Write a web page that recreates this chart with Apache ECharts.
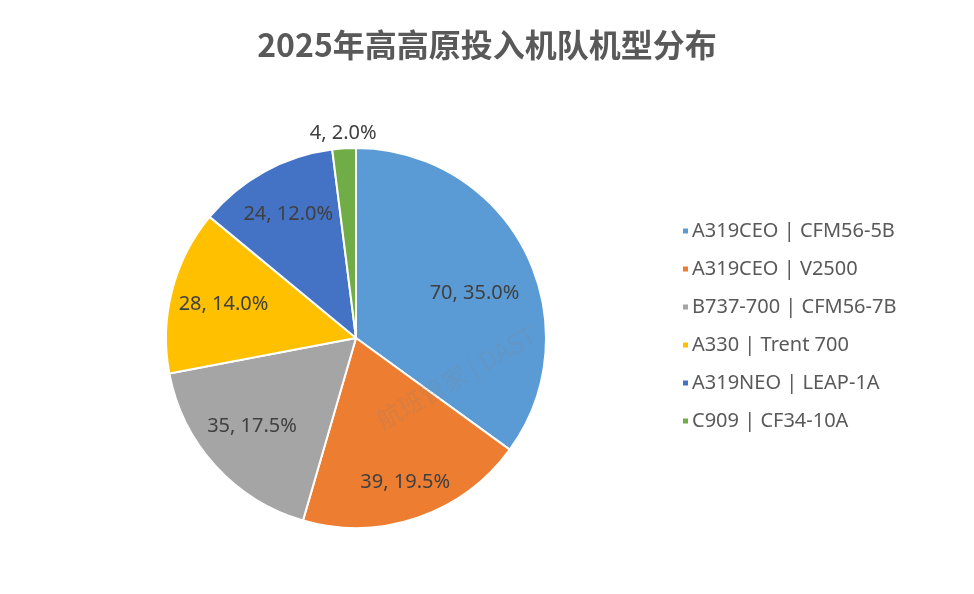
<!DOCTYPE html>
<html>
<head>
<meta charset="utf-8">
<script src="https://cdn.jsdelivr.net/npm/echarts@6/dist/echarts.min.js"></script>
<style>
html,body{margin:0;padding:0;background:#fff;}
#container1{width:974px;height:594px;}
</style>
</head>
<body>
<div id="container1"></div>
<script>
var names=['A319CEO | CFM56-5B','A319CEO | V2500','B737-700 | CFM56-7B','A330 | Trent 700','A319NEO | LEAP-1A','C909 | CF34-10A'];
var counts=[70,39,35,28,24,4];
var colors=['#5B9BD5','#ED7D31','#A5A5A5','#FFC000','#4472C4','#70AD47'];

var pieCenter=[356,338];
var pieRadius=190;
// label distance from centre (fraction of radius) and small vertical nudge per slice
var labelDist=[0.7,0.8,0.74,0.72,0.74,1.08];
var labelNudgeY=[16,0,-6,0,0,0];

var dom1=document.getElementById("container1");
var myChart1=echarts.init(dom1,null,{renderer:'canvas'});

var total=0;
for(var i=0;i<counts.length;i++){ total+=counts[i]; }

// mid angle of each slice, clockwise from 12 o'clock
function midAngle(idx){
    var before=0;
    for(var k=0;k<idx;k++){ before+=counts[k]; }
    return (before+counts[idx]/2)/total*Math.PI*2;
}

var pieData=[];
for(var i=0;i<names.length;i++){
    pieData.push({name:names[i],value:counts[i],itemStyle:{color:colors[i]}});
}

var option1={
    backgroundColor:'#fff',
    title:{
        text:'2025年高高原投入机队机型分布',
        left:'center',
        top:24,
        textStyle:{
            fontFamily:'Noto Sans CJK SC',
            fontSize:32,
            fontWeight:'bold',
            color:'#595959'
        }
    },
    legend:{
        orient:'vertical',
        left:676,
        top:216,
        itemWidth:7,
        itemHeight:7,
        itemGap:18,
        icon:'rect',
        data:names,
        textStyle:{
            fontFamily:'Noto Sans',
            fontSize:20,
            color:'#595959',
            padding:[0,0,0,-2]
        }
    },
    graphic:[{
        type:'text',
        left:372,
        top:322,
        rotation:0.52,
        silent:true,
        style:{
            text:'航班管家 | DAST',
            fontFamily:'Noto Sans CJK SC',
            fontSize:25,
            fill:'rgba(130,130,130,0.2)'
        },
        z:10
    }],
    series:[{
        type:'pie',
        center:pieCenter,
        radius:pieRadius,
        startAngle:90,
        clockwise:true,
        animation:false,
        silent:true,
        data:pieData,
        itemStyle:{borderColor:'#fff',borderWidth:2},
        label:{
            show:true,
            position:'inside',
            formatter:function(p){ return p.value+', '+(p.value/total*100).toFixed(1)+'%'; },
            fontFamily:'Noto Sans',
            fontSize:20,
            color:'#404040'
        },
        labelLine:{show:false},
        labelLayout:function(params){
            var idx=params.dataIndex;
            var a=midAngle(idx);
            var d=pieRadius*labelDist[idx];
            return {
                x:pieCenter[0]+Math.sin(a)*d,
                y:pieCenter[1]-Math.cos(a)*d+labelNudgeY[idx],
                align:'center',
                verticalAlign:'middle'
            };
        }
    }]
};
myChart1.setOption(option1);
</script>
</body>
</html>
